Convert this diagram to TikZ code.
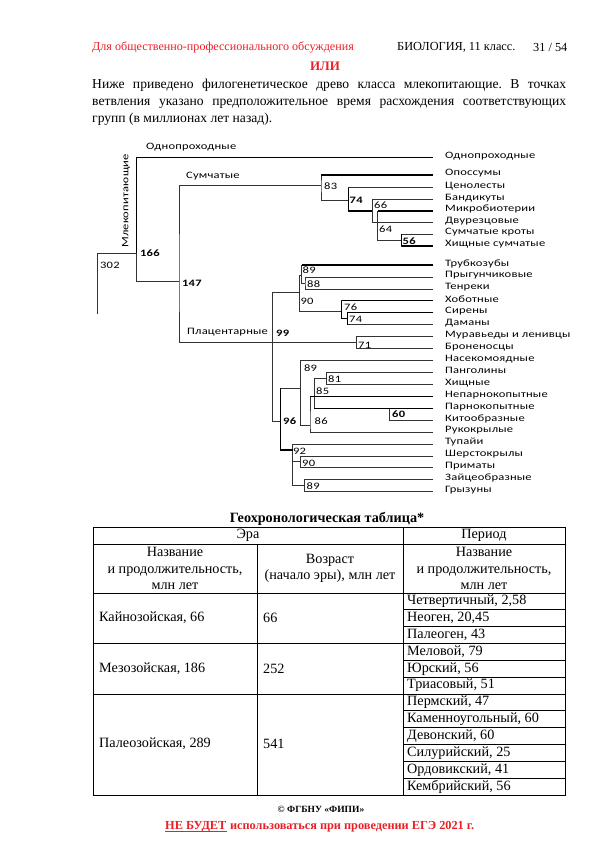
\documentclass[tikz,border=0pt]{standalone}
\usepackage{fontspec}
\setmainfont{Liberation Serif}
\newfontfamily\treefont[FakeStretch=1.28, LetterSpace=2]{Carlito}
\usetikzlibrary{positioning}

\definecolor{fipired}{rgb}{0.92,0.12,0.15}

\tikzset{
  br/.style={line width=0.7pt, black!80},
  brb/.style={line width=1.3pt, black},
  leaf/.style={anchor=west, inner sep=0pt, font=\treefont\fontsize{9.8}{10}\selectfont},
  age/.style={anchor=west, inner sep=0pt, font=\treefont\fontsize{9.8}{10}\selectfont},
  ageb/.style={age, font=\treefont\bfseries\fontsize{9.8}{10}\selectfont},
  cell/.style={anchor=west, inner sep=0pt, font=\fontsize{14.2}{15}\selectfont},
  hcell/.style={align=center, inner sep=0pt, font=\fontsize{14.2}{16.5}\selectfont},
  tline/.style={line width=0.8pt},
  warnfont/.style={inner sep=0pt, text=fipired, font=\bfseries\fontsize{12.3}{13}\selectfont},
}

\begin{document}
\begin{tikzpicture}[x=1pt, y=-1pt]
    \useasboundingbox (0,0) rectangle (610,855);

    % page head
    \node[anchor=west, inner sep=0pt, text=fipired, font=\fontsize{12.1}{13}\selectfont] (hdr) at (92,47) {Для общественно-профессионального обсуждения};
    \node[anchor=west, inner sep=0pt, font=\fontsize{12.3}{13}\selectfont] (subj) at (397,47) {БИОЛОГИЯ, 11 класс.};
    \node[anchor=west, inner sep=0pt, font=\fontsize{12.3}{13}\selectfont] (pg) at (533,47) {31 / 54};
    \node[inner sep=0pt, text=fipired, font=\bfseries\fontsize{13}{14}\selectfont] (ili) at (325,66) {ИЛИ};
    \node[anchor=north west, inner sep=0pt, text width=474pt, align=justify, font=\fontsize{13.6}{17}\selectfont] (intro) at (92,78.5)
        {\frenchspacing Ниже приведено филогенетическое древо класса млекопитающие. В~точках\linebreak
         ветвления указано предположительное время расхождения соответствующих\linebreak
         групп (в миллионах лет назад).};

    % leaves
    \coordinate (e0) at (433,157.7);
    \node[leaf] (l0) at (445,156.5) {Однопроходные};
    \foreach \n/\yy [count=\i] in {Опоссумы/175, Ценолесты/187.7, Бандикуты/199.7, Микробиотерии/211,
        Двурезцовые/222.7, Сумчатые кроты/234.3, Хищные сумчатые/246} {
        \coordinate (e\i) at (433,\yy);
        \node[leaf] (l\i) at (445,\yy-2) {\n};
    }
    \foreach \n [count=\i from 8] in {Трубкозубы, Прыгунчиковые, Тенреки, Хоботные, Сирены, Даманы,
        Муравьеды и ленивцы, Броненосцы, Насекомоядные, Панголины, Хищные, Непарнокопытные,
        Парнокопытные, Китообразные, Рукокрылые, Тупайи, Шерстокрылы, Приматы, Зайцеобразные, Грызуны} {
        \pgfmathsetmacro\yy{265+11.93*(\i-8)}
        \coordinate (e\i) at (433,\yy);
        \node[leaf] (l\i) at (445,\yy-1.5) {\n};
    }

    % branch points
    \coordinate (root) at (97.3,314);
    \coordinate (n302) at (97.3,253.3);
    \coordinate (n166) at (136.7,253.3);
    \coordinate (n147) at (179,281.7);
    \coordinate (n83) at (321,185);
    \coordinate (n74m) at (348.3,200);
    \coordinate (n66) at (372.3,211);
    \coordinate (n64) at (377.7,211);
    \coordinate (n56) at (401.7,240.1);
    \coordinate (n99) at (272.7,343.3);
    \coordinate (n90a) at (299.3,292.7);
    \coordinate (n89a) at (301.7,275);
    \coordinate (n88) at (305,283);
    \coordinate (n76) at (341.7,311);
    \coordinate (n74p) at (347.3,318.7);
    \coordinate (n71) at (356.7,342.6);
    \coordinate (n96) at (280.7,421);
    \coordinate (n89l) at (300.7,388.3);
    \coordinate (n86) at (310,425.7);
    \coordinate (n85) at (314.3,396.2);
    \coordinate (n81) at (326.7,378.3);
    \coordinate (n60) at (389.3,408.2);
    \coordinate (n92) at (292.7,450);
    \coordinate (n90p) at (300.7,461.8);
    \coordinate (n89p) at (304.3,485.7);

    % tree
    \draw[br] (root) -- (n302) -- (n166);
    \draw[br] (e0) -| (n166) |- (n147);
    \draw[br] (n83) -| (n147) |- (n71);
    \draw[br] (e1) -| (n83) |- (n74m);
    \draw[br] (e2) -| (n74m) |- (n66);
    \draw[br] (e3) -| (n66) |- (e5);
    \draw[br] (e4) -- (n64) |- (n56);
    \draw[br] (e6) -| (n56) |- (e7);
    \draw[br] (n90a) -| (n99) |- (n96);
    \draw[br] (n89a) -| (n90a) |- (n76);
    \draw[br] (e8) -| (n89a) |- (n88);
    \draw[br] (e9) -| (n88) |- (e10);
    \draw[br] (e11) -| (n76) |- (n74p);
    \draw[br] (e12) -| (n74p) |- (e13);
    \draw[br] (e14) -| (n71) |- (e15);
    \draw[br] (n89l) -| (n96) |- (n92);
    \draw[br] (e16) -| (n89l) |- (n86);
    \draw[br] (e19) -| (n86) |- (e22);
    \draw[br] (n81) -| (n85) |- (e20);
    \draw[br] (e17) -| (n81) |- (e18);
    \draw[br] (n60) |- (e21);
    \draw[br] (e23) -| (n92) |- (n89p);
    \draw[br] (n90p) -- (n90p -| n92);
    \draw[br] (e24) -| (n90p) |- (e25);
    \draw[br] (e26) -| (n89p) |- (e27);

    % heavier strokes
    \draw[brb] (e0) -| (n166);
    \draw[brb] (e1) -- (e1 -| n83);
    \draw[brb] (e4) -- (n64);
    \draw[brb] (e7) -- (e7 -| n56);
    \draw[brb] (e8) -- (e8 -| n89a);
    \draw[brb] (e11) -- (e11 -| n76);
    \draw[brb] (e12) -- (e12 -| n74p);
    \draw[brb] (e19) -- (e19 -| n86);
    \draw[brb] (e20) -- (e20 -| n85);
    \draw[brb] (e2 -| n74m) -- (n74m) |- (n66);
    \draw[brb] (e6 -| n56) -- (e7 -| n56);
    \draw[brb] (e11 -| n76) -- (n76) |- (n74p);
    \draw[brb] (e12 -| n74p) -- (e13 -| n74p);
    \draw[brb] (n89l -| n96) -- (n96) |- (n92);

    % clade names and ages
    \node[leaf, anchor=center, rotate=90] (mam) at (126,201) {Млекопитающие};
    \node[leaf] (mono) at (146,147) {Однопроходные};
    \node[leaf] (mars) at (186,176.5) {Сумчатые};
    \node[leaf] (plac) at (187,332) {Плацентарные};
    \node[age] (a302) at (100,265) {302};
    \node[ageb] (a166) at (140,253) {166};
    \node[ageb] (a147) at (182,283) {147};
    \node[ageb] (a99) at (276,333) {99};
    \node[age] (a83) at (324,186) {83};
    \node[ageb] (a74m) at (349.5,200) {74};
    \node[age] (a66) at (374,205.5) {66};
    \node[age] (a64) at (379,229.5) {64};
    \node[ageb] (a56) at (402.5,241.5) {56};
    \node[age] (a89a) at (302.5,270.5) {89};
    \node[age] (a88) at (307,284.5) {88};
    \node[age] (a90a) at (300.5,301.5) {90};
    \node[age] (a76) at (344,307.5) {76};
    \node[age] (a74p) at (349,319.5) {74};
    \node[age] (a71) at (358,345) {71};
    \node[age] (a89l) at (304,368) {89};
    \node[age] (a81) at (328,379.5) {81};
    \node[age] (a85) at (316,391) {85};
    \node[age] (a86) at (314.5,421.5) {86};
    \node[ageb] (a60) at (392,414.5) {60};
    \node[ageb] (a96) at (283,421.5) {96};
    \node[age] (a92) at (293,451) {92};
    \node[age] (a90p) at (302,463) {90};
    \node[age] (a89p) at (306.5,486.5) {89};

    % table
    \node[inner sep=0pt, font=\bfseries\fontsize{14.2}{15}\selectfont] (ttl) at (327,519) {Геохронологическая таблица*};
    \draw[tline] (93,527) rectangle (565,795);
    \draw[tline] (93,544) -- (565,544);
    \draw[tline] (93,593) -- (565,593);
    \draw[tline] (403,527) -- (403,795);
    \draw[tline] (257,544) -- (257,795);
    \draw[tline] (93,643.5) -- (565,643.5);
    \draw[tline] (93,694) -- (565,694);
    \foreach \k in {1,2,4,5,7,8,9,10,11} \draw[tline] (403,593+16.83*\k) -- (565,593+16.83*\k);

    \node[hcell] (era) at (248,535.5) {Эра};
    \node[hcell] (per) at (484,535.5) {Период};
    \node[hcell] (h1) at (175,568.5) {Название\\и продолжительность,\\млн лет};
    \node[hcell] (h2) at (330,568.5) {Возраст\\(начало эры), млн лет};
    \node[hcell] (h3) at (484,568.5) {Название\\и продолжительность,\\млн лет};

    \node[cell] (kz) at (99,618) {Кайнозойская, 66};
    \node[cell] (kza) at (263,618) {66};
    \node[cell] (mz) at (99,668.5) {Мезозойская, 186};
    \node[cell] (mza) at (263,668.5) {252};
    \node[cell] (pz) at (99,744) {Палеозойская, 289};
    \node[cell] (pza) at (263,744) {541};
    \foreach \p [count=\i from 0] in {{Четвертичный, 2,58},{Неоген, 20,45},{Палеоген, 43},{Меловой, 79},
        {Юрский, 56},{Триасовый, 51},{Пермский, 47},{Каменноугольный, 60},{Девонский, 60},
        {Силурийский, 25},{Ордовикский, 41},{Кембрийский, 56}}
        \node[cell] (p\i) at (407,601.4+16.83*\i) {\p};

    % page foot
    \node[inner sep=0pt, font=\bfseries\fontsize{9.5}{10}\selectfont] (copy) at (321,809) {© ФГБНУ «ФИПИ»};
    \node[warnfont, anchor=base west] (warnA) at (165,829) {НЕ БУДЕТ};
    \node[warnfont, anchor=base west] (warnB) at ([xshift=3.3pt]warnA.base east) {использоваться при проведении ЕГЭ 2021 г.};
    \draw[fipired, line width=1.3pt] ([yshift=-2.3pt]warnA.base west) -- ([yshift=-2.3pt]warnA.base east);

\end{tikzpicture}
\end{document}
